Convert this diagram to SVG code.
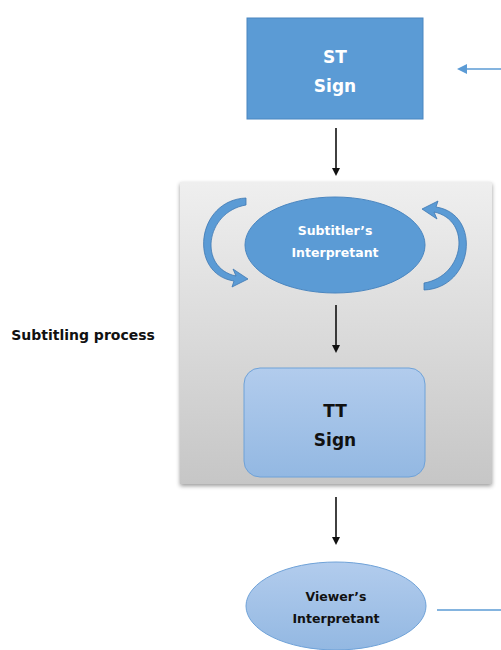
<svg xmlns="http://www.w3.org/2000/svg" width="501" height="650" viewBox="0 0 501 650">
<defs>
<style>
text{font-family:"DejaVu Sans","Noto Sans",sans-serif;font-weight:bold;text-anchor:middle}
.w{fill:#ffffff}
.k{fill:#111111}
.blk{stroke:#111111;stroke-width:1.6;fill:none;marker-end:url(#ah)}
.blu{stroke:#5b9bd5;stroke-width:1.6;fill:none}
</style>
<marker id="ah" markerWidth="10" markerHeight="10" refX="6" refY="4" orient="auto" markerUnits="userSpaceOnUse"><path d="M0,0 L8,4 L0,8 z" fill="#111111"/></marker>
<marker id="bh" markerWidth="12" markerHeight="12" refX="8" refY="5" orient="auto" markerUnits="userSpaceOnUse"><path d="M0,0 L10,5 L0,10 z" fill="#5b9bd5"/></marker>
<linearGradient id="panel" x1="0" y1="0" x2="0" y2="1"><stop offset="0" stop-color="#efefef"/><stop offset="1" stop-color="#c6c6c6"/></linearGradient>
<linearGradient id="lb" x1="0" y1="0" x2="0" y2="1"><stop offset="0" stop-color="#b2cced"/><stop offset="1" stop-color="#93b8e2"/></linearGradient>
<filter id="sh" x="-10%" y="-10%" width="120%" height="120%"><feGaussianBlur in="SourceAlpha" stdDeviation="2"/><feOffset dx="0" dy="2"/><feComponentTransfer><feFuncA type="linear" slope="0.4"/></feComponentTransfer><feMerge><feMergeNode/><feMergeNode in="SourceGraphic"/></feMerge></filter>
</defs>
<rect width="501" height="650" fill="#ffffff"/>
<g id="panel-group">
<rect x="180" y="182" width="312" height="302" fill="url(#panel)" filter="url(#sh)"/>
</g>
<g id="label-process"><text x="83" y="340" class="k" font-size="14">Subtitling process</text></g>
<g id="st-sign">
<rect x="247" y="18" width="176" height="101" fill="#5b9bd5" stroke="#4a86c0" stroke-width="1"/>
<text x="335" y="63" class="w" font-size="17">ST</text>
<text x="335" y="92" class="w" font-size="17">Sign</text>
</g>
<g id="subtitler-interpretant">
<ellipse cx="335" cy="245" rx="90" ry="48" fill="#5b9bd5" stroke="#4a86c0" stroke-width="1"/>
<text x="335" y="235" class="w" font-size="12.5">Subtitler’s</text>
<text x="335" y="257" class="w" font-size="12.5">Interpretant</text>
</g>
<g id="loop-left">
<path d="M246,205 C205,212 198,268 236,276 L233,269 L248,279 L232,287 L234,281 C188,274 196,200 246,198 Z" fill="#5b9bd5" stroke="#3f79b3" stroke-width="0.8"/>
</g>
<g id="loop-right">
<path d="M424,283 C465,276 472,220 434,212 L437,219 L422,209 L438,201 L436,207 C482,214 474,288 424,290 Z" fill="#5b9bd5" stroke="#3f79b3" stroke-width="0.8"/>
</g>
<g id="tt-sign">
<rect x="244" y="368" width="181" height="109" rx="16" fill="url(#lb)" stroke="#6fa2d8" stroke-width="1"/>
<text x="335" y="417" class="k" font-size="17">TT</text>
<text x="335" y="446" class="k" font-size="17">Sign</text>
</g>
<g id="viewer-interpretant">
<ellipse cx="336" cy="606" rx="90" ry="44" fill="url(#lb)" stroke="#6fa2d8" stroke-width="1"/>
<text x="336" y="601" class="k" font-size="12.5">Viewer’s</text>
<text x="336" y="623" class="k" font-size="12.5">Interpretant</text>
</g>
<g id="connectors">
<line x1="336" y1="128" x2="336" y2="174" class="blk"/>
<line x1="336" y1="305" x2="336" y2="351" class="blk"/>
<line x1="336" y1="497" x2="336" y2="543" class="blk"/>
<line x1="501" y1="69" x2="459" y2="69" class="blu" marker-end="url(#bh)"/>
<line x1="437" y1="610" x2="501" y2="610" class="blu"/>
</g>
</svg>
